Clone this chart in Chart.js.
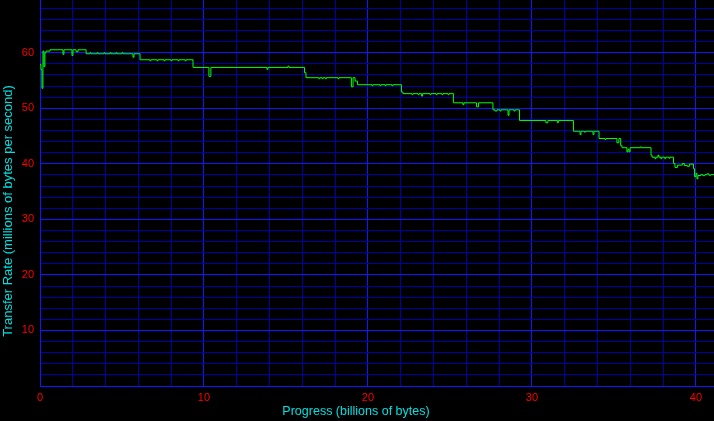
<!DOCTYPE html>
<html><head><meta charset="utf-8">
<style>html,body{margin:0;padding:0;background:#000;overflow:hidden}canvas{display:block}</style>
<script src="https://cdn.jsdelivr.net/npm/chart.js@4.4.1/dist/chart.umd.min.js"></script>
</head><body>
<canvas id="c" width="714" height="421"></canvas>
<script>
// Progress (billions of bytes) where each rate level starts
const progress = [
  0.00,0.06,0.12,0.18,0.24,0.30,0.37,0.61,1.40,1.46,1.95,2.01,2.20,2.32,
  2.81,3.05,3.11,3.48,3.54,3.90,3.96,4.27,4.33,4.63,4.69,5.00,5.06,5.67,5.73,
  6.10,6.70,6.76,7.13,7.19,7.56,7.62,7.99,8.05,8.42,8.48,8.85,8.91,
  9.33,10.30,10.42,13.84,13.90,15.12,15.18,
  16.13,16.22,17.00,17.06,17.20,17.26,17.40,17.46,18.17,18.23,
  18.99,19.09,19.21,19.36,20.24,20.30,20.73,20.79,21.04,21.10,21.46,21.52,
  22.04,22.13,22.68,22.74,23.05,23.11,23.27,23.33,23.78,23.84,24.15,24.21,24.51,24.57,24.88,24.94,
  25.21,25.79,25.85,26.62,26.74,
  27.62,27.75,27.87,28.05,28.11,28.54,28.60,28.90,28.96,
  29.24,30.85,30.97,31.55,31.61,
  32.53,32.93,32.99,33.20,33.26,33.72,33.78,
  34.09,34.45,34.51,35.18,35.30,35.41,35.49,35.79,35.85,35.92,35.98,36.60,36.66,
  37.26,37.32,37.50,37.56,37.68,37.74,37.86,37.92,38.10,38.16,38.35,38.41,
  38.63,38.72,38.87,39.17,39.29,39.47,39.60,
  39.85,39.91,40.00,40.06,40.12,40.30,40.42,40.55,40.67,40.79,40.91,41.10
];
// Transfer rate (millions of bytes per second)
const rate = [
  57.9,57.0,53.6,60.3,57.5,60.0,60.3,60.54,59.7,60.54,59.5,60.54,60.2,60.54,
  59.82,60.0,59.82,60.0,59.82,60.0,59.82,60.0,59.82,60.0,59.82,60.0,59.82,59.2,59.82,
  58.74,58.56,58.74,58.56,58.74,58.56,58.74,58.56,58.74,58.56,58.74,58.56,58.74,
  57.36,55.75,57.36,57.0,57.36,57.59,57.36,
  56.41,55.51,55.33,55.51,55.33,55.51,55.33,55.51,55.33,55.51,
  53.86,55.51,54.9,54.25,54.07,54.25,54.07,54.25,54.07,54.25,54.07,54.25,
  52.93,52.64,52.46,52.64,52.46,52.64,52.2,52.64,52.46,52.64,52.46,52.64,52.46,52.64,52.46,52.64,
  50.99,50.66,50.99,50.27,50.99,
  49.73,49.52,49.73,49.52,49.73,48.74,49.73,49.52,49.73,
  47.81,47.4,47.81,47.4,47.81,
  45.87,45.28,45.87,45.7,45.87,45.28,45.87,
  44.56,44.38,44.56,43.8,44.56,43.27,42.91,42.15,42.6,42.15,42.91,43.05,42.91,
  41.56,41.2,40.93,41.2,41.56,41.2,40.93,41.2,40.93,41.2,41.0,41.2,
  40.07,39.35,39.77,40.07,39.7,39.55,39.95,
  39.14,37.7,38.28,37.3,37.9,38.06,37.88,38.06,38.2,37.95,38.06,38.06
];
const xTickLabels = ['0','10','20','30','40'];
const yTickLabels = ['10','20','30','40','50','60'];
const xTitle = 'Progress (billions of bytes)';
const yTitle = 'Transfer Rate (millions of bytes per second)';

const MAJOR = '#1414ff', MINOR = '#0000a8', RED = '#ff0000', CYAN = '#00e0e0';
const gridColor = (c) => (c.tick && Math.round(c.tick.value) % 10 === 0) ? MAJOR : MINOR;

const deco = {
  id: 'deco',
  beforeDraw(chart) {
    const c = chart.ctx; c.save(); c.fillStyle = '#000';
    c.fillRect(0, 0, chart.width, chart.height); c.restore();
  },
  afterDraw(chart) {
    const c = chart.ctx; c.save();
    c.fillStyle = CYAN; c.textAlign = 'center'; c.textBaseline = 'middle';
    c.font = '12.5px "Liberation Sans", Arial, sans-serif';
    c.fillText(xTitle, 356, 412);
    c.translate(8.5, 211); c.rotate(-Math.PI / 2);
    c.font = '13px "Liberation Sans", Arial, sans-serif';
    c.fillText(yTitle, 0, 0);
    c.restore();
  }
};

new Chart(document.getElementById('c'), {
  type: 'line',
  data: {
    datasets: [{
      data: progress.map((p, i) => ({x: p, y: rate[i]})),
      borderColor: '#00ff00', borderWidth: 1, pointRadius: 0,
      stepped: true, fill: false, tension: 0
    }]
  },
  options: {
    responsive: false, animation: false, devicePixelRatio: 1,
    layout: {padding: 0},
    plugins: {legend: {display: false}, tooltip: {enabled: false}},
    scales: {
      x: {
        type: 'linear', min: 0, max: 41.1,
        grid: {color: gridColor, lineWidth: 1, drawTicks: false},
        border: {color: MAJOR, width: 1},
        ticks: {
          stepSize: 2, includeBounds: false, autoSkip: false, maxRotation: 0, padding: 5,
          maxTicksLimit: 100,
          color: RED, font: {family: '"Liberation Sans", Arial, sans-serif', size: 11},
          callback: (v) => xTickLabels.includes(String(v)) ? String(v) : ''
        },
        afterFit: (s) => { s.height = 35; s.paddingLeft = 0; s.paddingRight = 0; }
      },
      y: {
        type: 'linear', min: 0, max: 69.5,
        grid: {color: gridColor, lineWidth: 1, drawTicks: false},
        border: {color: MAJOR, width: 1},
        ticks: {
          stepSize: 2, includeBounds: false, autoSkip: false, padding: 6,
          maxTicksLimit: 100,
          color: RED, font: {family: '"Liberation Sans", Arial, sans-serif', size: 11},
          callback: (v) => yTickLabels.includes(String(v)) ? String(v) : ''
        },
        afterFit: (s) => { s.width = 40; s.paddingTop = 0; s.paddingBottom = 0; }
      }
    }
  },
  plugins: [deco]
});
</script>
</body></html>
